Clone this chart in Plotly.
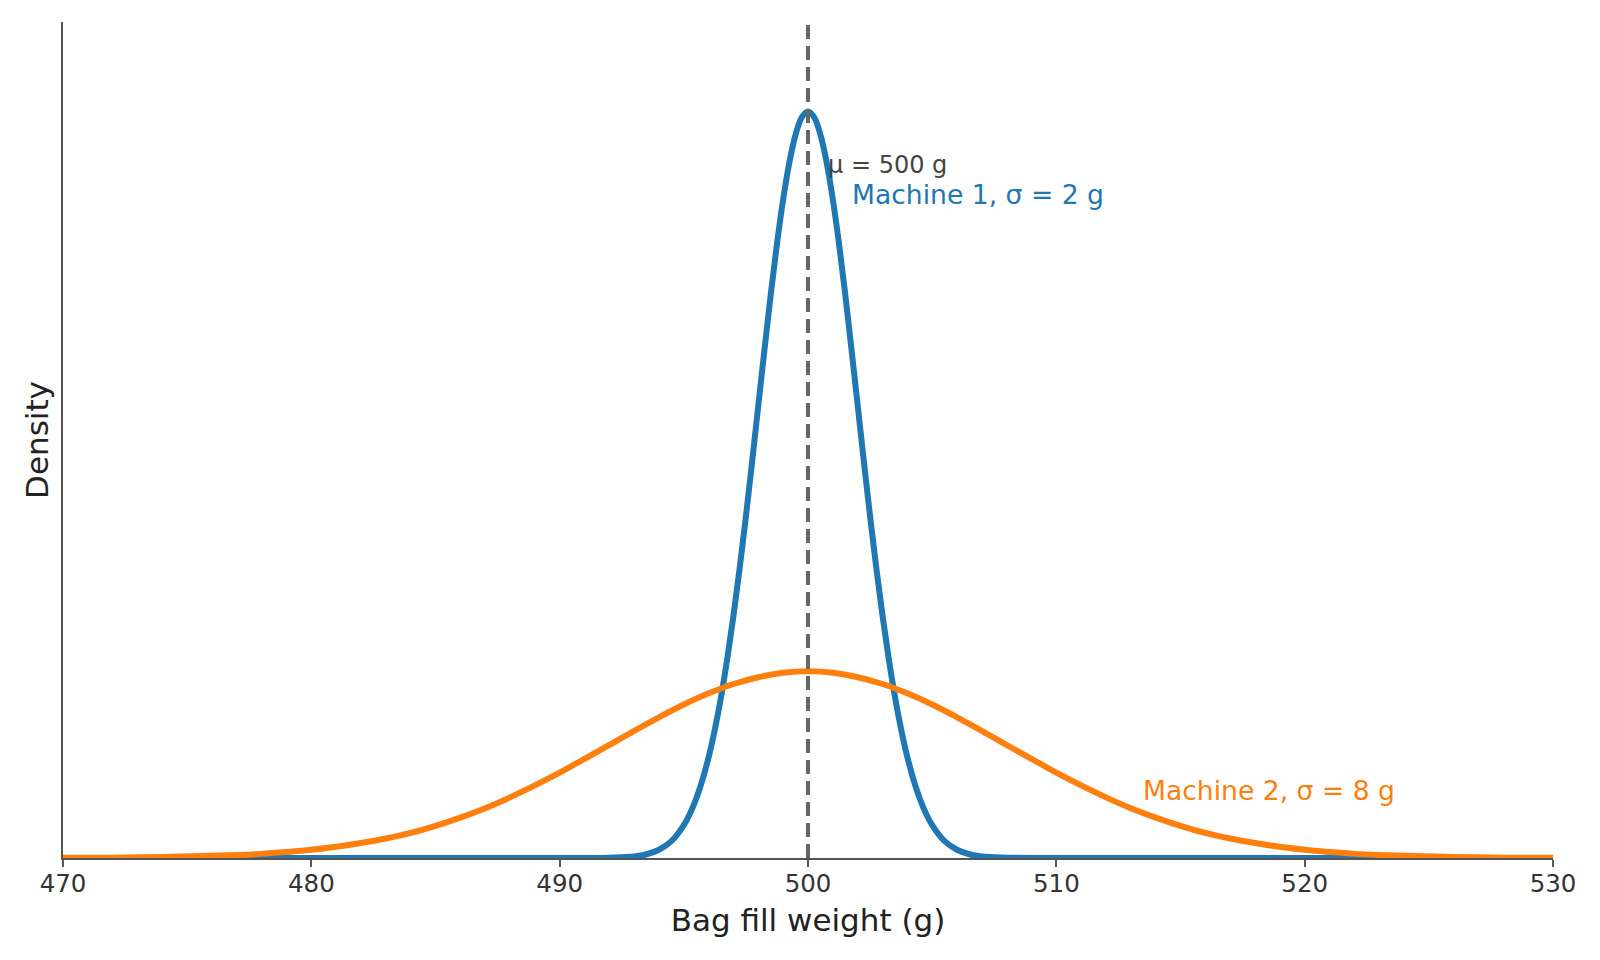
import plotly.graph_objects as go

# density values (g -> density)
m1_weight = [470, 490, 491, 492, 493, 493.5, 494, 494.5, 495, 495.25, 495.5, 495.75, 496, 496.25,
             496.5, 496.75, 497, 497.25, 497.5, 497.75, 498, 498.25, 498.5, 498.75, 499, 499.25,
             499.5, 499.75, 500, 500.25, 500.5, 500.75, 501, 501.25, 501.5, 501.75, 502, 502.25,
             502.5, 502.75, 503, 503.25, 503.5, 503.75, 504, 504.25, 504.5, 504.75, 505, 505.5,
             506, 506.5, 507, 508, 509, 510, 530]
m1_density = [0, 0, 0.0000, 0.0001, 0.0004, 0.0010, 0.0022, 0.0045, 0.0088, 0.0119, 0.0159,
              0.0209, 0.0270, 0.0344, 0.0431, 0.0533, 0.0648, 0.0775, 0.0913, 0.1059, 0.1210,
              0.1360, 0.1506, 0.1641, 0.1760, 0.1859, 0.1933, 0.1979, 0.1995, 0.1979, 0.1933,
              0.1859, 0.1760, 0.1641, 0.1506, 0.1360, 0.1210, 0.1059, 0.0913, 0.0775, 0.0648,
              0.0533, 0.0431, 0.0344, 0.0270, 0.0209, 0.0159, 0.0119, 0.0088, 0.0045, 0.0022,
              0.0010, 0.0004, 0.0001, 0.0000, 0, 0]

m2_weight = [470, 472, 474, 476, 477, 478, 479, 480, 481, 482, 483, 484, 485, 486, 487, 488,
             489, 490, 491, 492, 493, 494, 495, 496, 497, 498, 499, 500, 501, 502, 503, 504,
             505, 506, 507, 508, 509, 510, 511, 512, 513, 514, 515, 516, 517, 518, 519, 520,
             521, 522, 523, 524, 526, 528, 530]
m2_density = [0.00004, 0.0001, 0.0003, 0.0006, 0.0008, 0.0011, 0.0016, 0.0022, 0.0030, 0.0040,
              0.0052, 0.0067, 0.0086, 0.0108, 0.0133, 0.0162, 0.0194, 0.0228, 0.0265, 0.0302,
              0.0340, 0.0376, 0.0410, 0.0440, 0.0465, 0.0483, 0.0495, 0.0499, 0.0495, 0.0483,
              0.0465, 0.0440, 0.0410, 0.0376, 0.0340, 0.0302, 0.0265, 0.0228, 0.0194, 0.0162,
              0.0133, 0.0108, 0.0086, 0.0067, 0.0052, 0.0040, 0.0030, 0.0022, 0.0016, 0.0011,
              0.0008, 0.0006, 0.0003, 0.0001, 0.00004]

mean_weight = 500
x_ticks = [470, 480, 490, 500, 510, 520, 530]
y_top = 0.2234

FONT = "DejaVu Sans"
BLUE = "#1f77b4"
ORANGE = "#ff7f0e"
AXIS = "#555555"

fig = go.Figure()
# simplify off, otherwise plotly drops points and the curves get kinks
fig.add_trace(go.Scatter(x=m1_weight, y=m1_density, mode="lines",
                         line=dict(color=BLUE, width=6, shape="spline", smoothing=1,
                                   simplify=False),
                         hoverinfo="skip"))
fig.add_trace(go.Scatter(x=m2_weight, y=m2_density, mode="lines",
                         line=dict(color=ORANGE, width=6, shape="spline", smoothing=1,
                                   simplify=False),
                         hoverinfo="skip"))
fig.add_trace(go.Scatter(x=[mean_weight, mean_weight], y=[0, y_top], mode="lines",
                         line=dict(color="#666666", width=4, dash="14px,7px"),
                         hoverinfo="skip"))

fig.add_annotation(x=500.74, y=0.1853, text="μ = 500 g", showarrow=False,
                   xanchor="left", yanchor="middle",
                   font=dict(family=FONT, size=24, color="#444444"))
fig.add_annotation(x=501.7, y=0.1774, text="Machine 1, σ = 2 g", showarrow=False,
                   xanchor="left", yanchor="middle",
                   font=dict(family=FONT, size=26.6, color=BLUE))
fig.add_annotation(x=513.4, y=0.0180, text="Machine 2, σ = 8 g", showarrow=False,
                   xanchor="left", yanchor="middle",
                   font=dict(family=FONT, size=26.6, color=ORANGE))

fig.update_layout(
    width=1600, height=960,
    margin=dict(l=55, r=55, t=14, b=110, autoexpand=False),
    plot_bgcolor="white", paper_bgcolor="white",
    showlegend=False,
    font=dict(family=FONT, color="#333333"),
)
fig.update_xaxes(
    range=[470, 530], tickvals=x_ticks, ticks="outside", ticklen=7, tickwidth=2,
    tickcolor=AXIS, showline=True, linecolor=AXIS, linewidth=2,
    showgrid=False, zeroline=False, automargin=False, ticklabelstandoff=-4,
    tickfont=dict(size=24.5, color="#333333"),
    title=dict(text="Bag fill weight (g)", font=dict(size=31, color="#222222"), standoff=12),
)
fig.update_yaxes(
    range=[0, y_top], showticklabels=False, ticks="", showline=True,
    linecolor=AXIS, linewidth=2, showgrid=False, zeroline=False, automargin=False,
    title=dict(text="Density", font=dict(size=31, color="#222222"), standoff=3),
)

fig.write_html("out.html")
